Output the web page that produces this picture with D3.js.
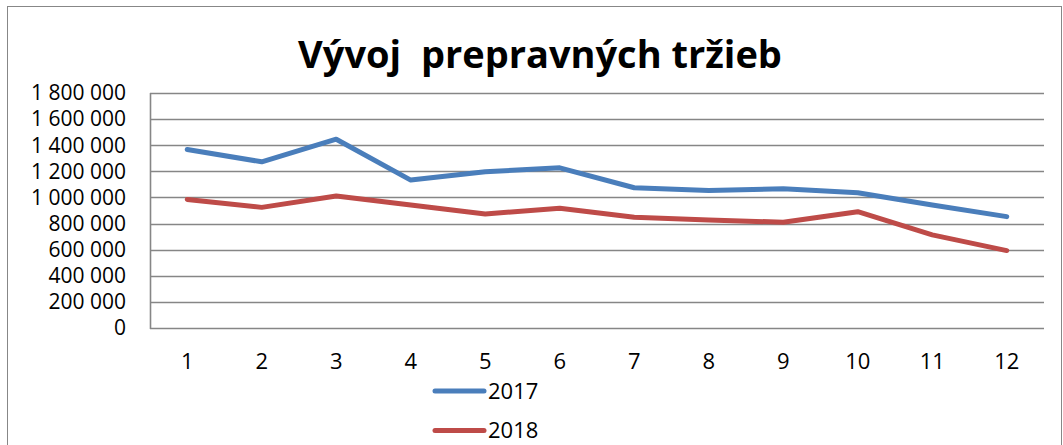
<!DOCTYPE html>
<html>
<head>
<meta charset="utf-8">
<title>Vývoj prepravných tržieb</title>
<style>
body {
	margin: 0;
	background: #ffffff;
}
#chart text {
	font-family: "Open Sans", sans-serif;
	fill: #000;
}
</style>
<script src="https://d3js.org/d3.v7.min.js"></script>
</head>
<body>
<svg id="chart" width="1063" height="445"></svg>
<script>
var months = [1, 2, 3, 4, 5, 6, 7, 8, 9, 10, 11, 12];
var sales2017 = [1367000, 1273000, 1446000, 1133000, 1196000, 1227000, 1074000, 1054000, 1067000, 1036000, 942000, 853000];
var sales2018 = [985000, 924000, 1011000, 942000, 873000, 917000, 848000, 827000, 810000, 891000, 713000, 593000];
var yTicks = [0, 200000, 400000, 600000, 800000, 1000000, 1200000, 1400000, 1600000, 1800000];
var seriesNames = ['2017', '2018'];
var colors = ['#4a7ebb', '#be4b48'];

var svg = d3.select('#chart');

// outer chart frame
svg.append('rect')
	.attr('x', 7.5)
	.attr('y', 6.5)
	.attr('width', 1054)
	.attr('height', 450)
	.attr('fill', 'none')
	.attr('stroke', '#878787')
	.attr('stroke-width', 1);

// plot area bounds (window.top is reserved, so prefixed names)
var plotL = 150, plotR = 1044, plotT = 93, plotB = 328;

var x = d3.scalePoint()
	.domain(months)
	.range([plotL, plotR])
	.padding(0.5);

var y = d3.scaleLinear()
	.domain([0, 1800000])
	.range([plotB, plotT]);

function fmt(v) {
	// space as thousands separator
	return d3.format(',')(v).replace(/,/g, ' ');
}

// gridlines
svg.append('g')
	.selectAll('line')
	.data(yTicks)
	.join('line')
	.attr('x1', plotL)
	.attr('x2', plotR)
	.attr('y1', function(d) { return Math.round(y(d)) + 0.5; })
	.attr('y2', function(d) { return Math.round(y(d)) + 0.5; })
	.attr('stroke', '#868686')
	.attr('stroke-width', 1.4);

// axis line
svg.append('line')
	.attr('x1', plotL + 0.5).attr('x2', plotL + 0.5)
	.attr('y1', plotT).attr('y2', plotB + 1)
	.attr('stroke', '#868686').attr('stroke-width', 1.6);

// y labels
svg.append('g')
	.selectAll('text')
	.data(yTicks)
	.join('text')
	.attr('x', 126)
	.attr('y', function(d) { return y(d); })
	.attr('dy', '0.35em')
	.attr('text-anchor', 'end')
	.style('font-size', '21px')
	.text(fmt);

// x labels
svg.append('g')
	.selectAll('text')
	.data(months)
	.join('text')
	.attr('x', function(d) { return x(d); })
	.attr('y', 361)
	.attr('dy', '0.35em')
	.attr('text-anchor', 'middle')
	.style('font-size', '22px')
	.text(function(d) { return d; });

// lines
var line = d3.line()
	.x(function(d, i) { return x(months[i]); })
	.y(function(d) { return y(d); });

[sales2017, sales2018].forEach(function(s, i) {
	svg.append('path')
		.datum(s)
		.attr('d', line)
		.attr('fill', 'none')
		.attr('stroke', colors[i])
		.attr('stroke-width', 5)
		.attr('stroke-linejoin', 'round')
		.attr('stroke-linecap', 'round');
});

// legend
seriesNames.forEach(function(name, i) {
	var ly = 391 + i * 39.5;
	svg.append('line')
		.attr('x1', 435).attr('x2', 484)
		.attr('y1', ly).attr('y2', ly)
		.attr('stroke', colors[i])
		.attr('stroke-width', 5)
		.attr('stroke-linecap', 'round');
	svg.append('text')
		.attr('x', 488)
		.attr('y', ly)
		.attr('dy', '0.35em')
		.style('font-size', '22px')
		.text(name);
});

// title
svg.append('text')
	.attr('x', 540)
	.attr('y', 68)
	.attr('text-anchor', 'middle')
	.style('font-size', '38px')
	.style('font-weight', 'bold')
	.style('white-space', 'pre')
	.text('Vývoj  prepravných tržieb');
</script>
</body>
</html>
